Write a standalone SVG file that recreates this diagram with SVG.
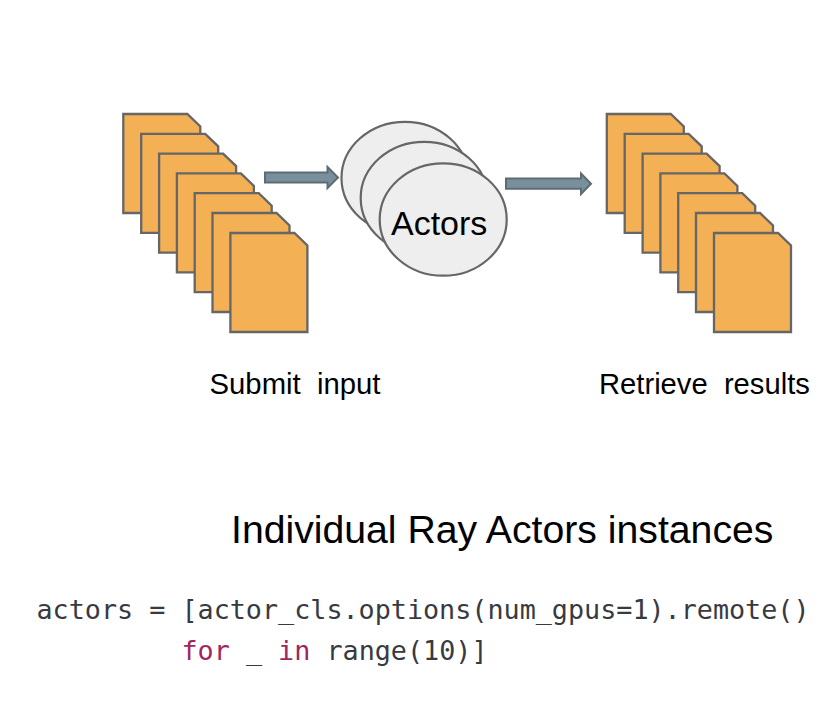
<svg xmlns="http://www.w3.org/2000/svg" width="838" height="710" viewBox="0 0 838 710">
<style>
.doc{fill:#f3b055;stroke:#666;stroke-width:2.300;stroke-linejoin:miter}
.actor{fill:#eee;stroke:#666;stroke-width:2.200}
.arrow{fill:#78909c;stroke:#5f6b73;stroke-width:2}
.sans{font-family:"Liberation Sans",Arial,sans-serif;fill:#000;white-space:pre}
.code{font-family:"DejaVu Sans Mono","Liberation Mono",monospace;font-size:26.750px;fill:#383a42;white-space:pre}
.kw{fill:#a0265f}
</style>
<defs>
<path id="doc" class="doc" d="M0 0H64L77 12.500V99H0Z"/>
</defs>
<rect width="838" height="710" fill="#fff"/>
<g id="input-docs">
<use id="in1" href="#doc" x="123.300" y="114"/>
<use id="in2" href="#doc" x="141.200" y="133.800"/>
<use id="in3" href="#doc" x="159.100" y="153.600"/>
<use id="in4" href="#doc" x="176.900" y="173.400"/>
<use id="in5" href="#doc" x="194.700" y="193.200"/>
<use id="in6" href="#doc" x="212.500" y="213"/>
<use id="in7" href="#doc" x="230.400" y="233"/>
</g>
<g id="output-docs">
<use id="out1" href="#doc" x="606.800" y="114"/>
<use id="out2" href="#doc" x="624.700" y="133.800"/>
<use id="out3" href="#doc" x="642.600" y="153.600"/>
<use id="out4" href="#doc" x="660.400" y="173.400"/>
<use id="out5" href="#doc" x="678.200" y="193.200"/>
<use id="out6" href="#doc" x="696" y="213"/>
<use id="out7" href="#doc" x="714" y="233"/>
</g>
<g id="actors">
<ellipse id="actor1" class="actor" cx="405" cy="178" rx="63.500" ry="56.200"/>
<ellipse id="actor2" class="actor" cx="424.200" cy="198" rx="63.500" ry="56.200"/>
<ellipse id="actor3" class="actor" cx="443.200" cy="219.500" rx="63.500" ry="56.200"/>
<text class="sans" x="391" y="235" font-size="34">Actors</text>
</g>
<g id="connectors">
<path class="arrow" d="M265 172.600H327.500V167L338 177.500L327.500 188V182.400H265Z"/>
<path class="arrow" d="M506 178.500H581V173.500L591 183.700L581 194V188.800H506Z"/>
</g>
<g id="labels">
<text class="sans" x="209.500" y="393.500" font-size="29.300">Submit  input</text>
<text class="sans" x="599" y="393.500" font-size="29.200">Retrieve  results</text>
<text class="sans" x="231" y="543" font-size="39.200">Individual Ray Actors instances</text>
</g>
<g id="code">
<text class="code" x="36.500" y="619">actors = [actor_cls.options(num_gpus=1).remote()</text>
<text class="code" x="36.500" y="660">         <tspan class="kw">for</tspan> _ <tspan class="kw">in</tspan> range(10)]</text>
</g>
</svg>
